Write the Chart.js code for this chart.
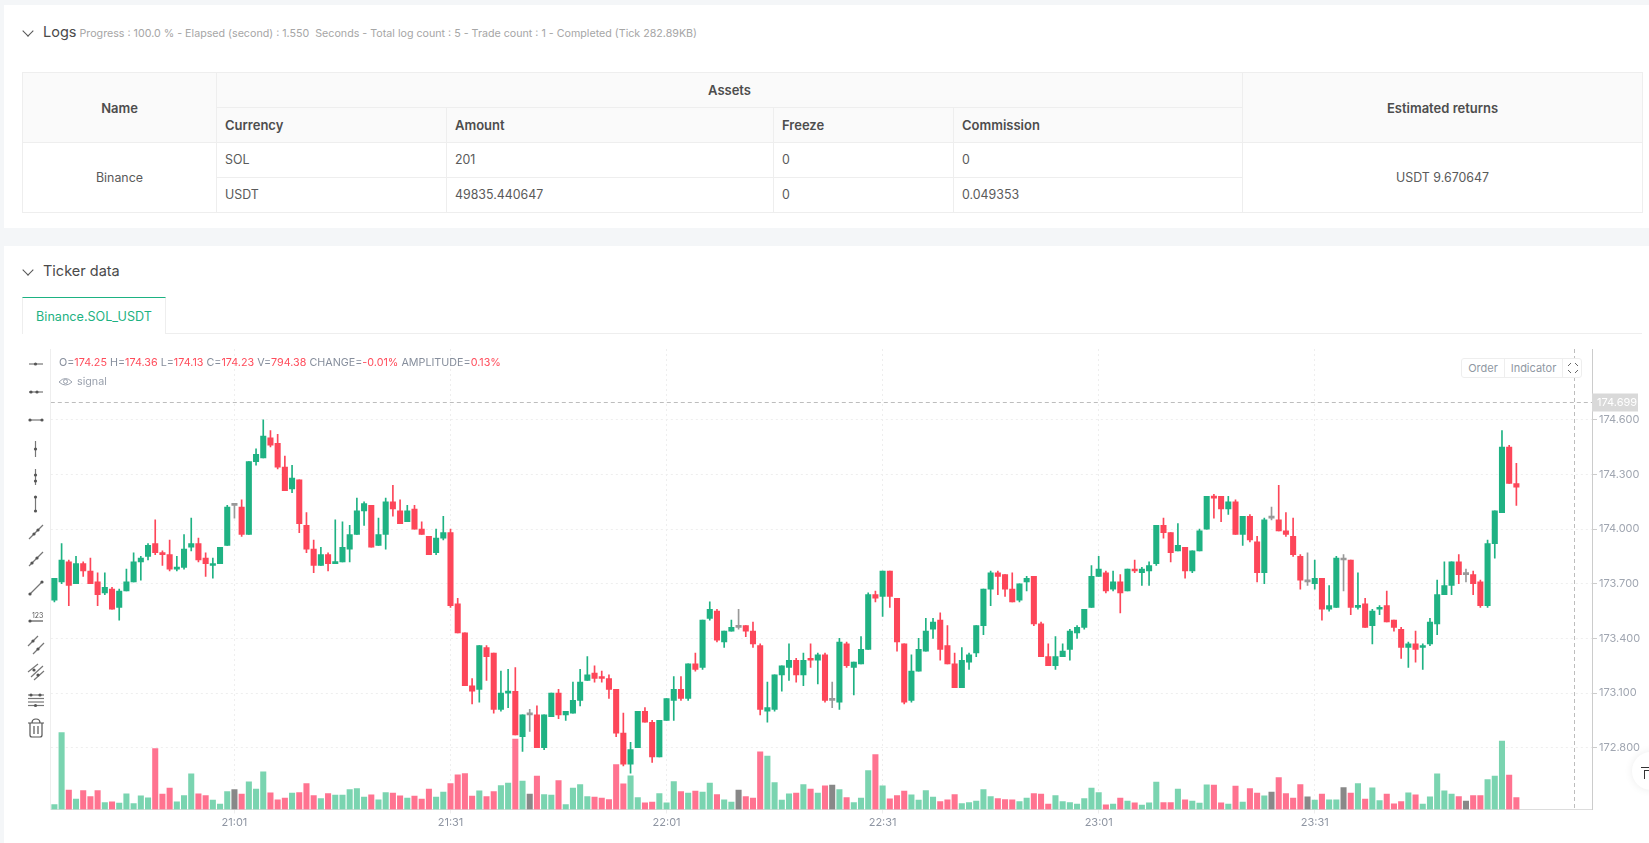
<!DOCTYPE html>
<html>
<head>
<meta charset="utf-8">
<title>Ticker data</title>
<script src="https://cdn.jsdelivr.net/npm/chart.js@4/dist/chart.umd.min.js"></script>
<style>
  html, body { margin: 0; padding: 0; background: #f4f6f8; font-family: Inter, sans-serif; }
  body { width: 1649px; height: 843px; position: relative; overflow: hidden; }
  .card { position: absolute; left: 4px; right: 0; background: #fff; }
  .abs { position: absolute; white-space: pre; }
  .chev { position: absolute; width: 7px; height: 7px; border-right: 1px solid #555; border-bottom: 1px solid #555; transform: rotate(45deg); }
  .title { font-size: 14.5px; color: #4a4a4a; }
  .sub { font-size: 10.7px; color: #a6a6a6; }
  table { position: absolute; left: 22px; top: 72px; width: 1620px; height: 140px; border-collapse: collapse; table-layout: fixed; font-size: 12.4px; color: #5a5a5a; }
  tr { height: 35px; }
  th, td { border: 1px solid #eee; padding: 0 0 0 8px; font-weight: 400; text-align: left; line-height: 16px; }
  th { background: #fafafa; font-weight: 600; font-size: 13px; color: #4d4d4d; }
  .c { text-align: center; padding: 0; }
  .tab { position: absolute; left: 22px; top: 297px; width: 144px; height: 37px; box-sizing: border-box; border: 1px solid #eee; border-top: 1px solid #1db282; border-bottom: 0; background: #fff; color: #1db282; font-size: 12.6px; line-height: 37px; text-align: center; }
  .info { font-size: 10.75px; color: #868e9c; }
  .info b { font-weight: 400; color: #ff4d5c; }
  .btns { position: absolute; left: 1461px; top: 358px; width: 121px; height: 20px; box-sizing: border-box; border: 1px solid #eee; border-radius: 3px; background: #fff; font-size: 11px; color: #9098a3; line-height: 18px; z-index: 2; }
  .btns span { position: absolute; text-align: center; top: 0; height: 18px; border-right: 1px solid #eee; }
  #chartBox { position: absolute; left: 30px; top: 340px; }
</style>
</head>
<body>
<div class="card" style="top:5px;height:223px"></div>
<div class="card" style="top:246px;bottom:0"></div>

<div class="chev" style="left:24px;top:27px"></div>
<div class="abs title" style="left:43px;top:23px">Logs</div>
<div class="abs sub" style="left:79.5px;top:27px">Progress : 100.0 % - Elapsed (second) : 1.550  Seconds - Total log count : 5 - Trade count : 1 - Completed (Tick 282.89KB)</div>

<table>
  <colgroup><col style="width:194px"><col style="width:230px"><col style="width:327px"><col style="width:180px"><col style="width:289px"><col style="width:400px"></colgroup>
  <tr><th class="c" rowspan="2">Name</th><th class="c" colspan="4">Assets</th><th class="c" rowspan="2">Estimated returns</th></tr>
  <tr><th>Currency</th><th>Amount</th><th>Freeze</th><th>Commission</th></tr>
  <tr><td class="c" rowspan="2">Binance</td><td>SOL</td><td>201</td><td>0</td><td>0</td><td class="c" rowspan="2">USDT 9.670647</td></tr>
  <tr><td>USDT</td><td>49835.440647</td><td>0</td><td>0.049353</td></tr>
</table>

<div class="chev" style="left:24px;top:266px"></div>
<div class="abs title" style="left:43px;top:262px">Ticker data</div>
<div class="tab">Binance.SOL_USDT</div>
<div class="abs" style="left:166px;top:333px;width:1476px;height:1px;background:#eee"></div>

<div id="chartBox"><canvas id="grafico" width="1619" height="500" style="display:block;width:1619px;height:500px"></canvas></div>
<div class="abs" style="left:50px;top:349px;width:1px;height:461px;background:#eee"></div>

<div class="abs info" style="left:59px;top:356px">O=<b>174.25</b> H=<b>174.36</b> L=<b>174.13</b> C=<b>174.23</b> V=<b>794.38</b> CHANGE=<b>-0.01%</b> AMPLITUDE=<b>0.13%</b></div>
<svg class="abs" style="left:58px;top:376px" width="16" height="12" viewBox="0 0 16 12"><path d="M1 6 Q7.5 -1 14 6 Q7.5 12 1 6Z" fill="none" stroke="#9aa1ad"/><circle cx="7.5" cy="5.5" r="2" fill="none" stroke="#9aa1ad"/></svg>
<div class="abs info" style="left:77px;top:375px;color:#9aa1ad">signal</div>

<div class="btns">
  <span style="left:0;width:42px">Order</span>
  <span style="left:43px;width:57px">Indicator</span>
  <svg class="abs" style="left:105px;top:3px" width="12" height="12" viewBox="0 0 12 12" fill="none" stroke="#666"><path d="M1 4L4 1M8 1L11 4M11 8L8 11M4 11L1 8"/></svg>
</div>

<svg class="abs" id="herramientas" style="left:0;top:0" width="60" height="760" fill="none" stroke="#666" stroke-width="1.2"></svg>

<div class="abs" style="left:1632px;top:752px;width:38px;height:38px;border-radius:50%;background:#fff;box-shadow:0 0 8px rgba(0,0,0,.08)"></div>
<div class="abs" style="left:1641px;top:767px;width:8px;height:1px;background:#333"></div>
<div class="abs" style="left:1644px;top:770px;width:5px;height:8px;border-left:1px solid #333;border-top:1px solid #333"></div>

<script>
const opens = [
  173.61,173.71,173.82,173.70,173.81,173.77,173.71,173.65,173.67,173.57,
  173.66,173.71,173.82,173.85,173.92,173.87,173.86,173.78,173.79,173.90,
  173.92,173.84,173.80,173.81,173.91,174.13,174.12,173.97,174.37,174.39,
  174.50,174.47,174.34,174.22,174.27,174.02,173.89,173.80,173.86,173.81,
  173.82,173.89,173.97,174.10,174.13,173.91,173.97,174.15,174.10,174.04,
  174.11,174.00,173.96,173.87,173.95,173.98,173.59,173.43,173.14,173.12,
  173.35,173.32,173.01,173.10,173.11,172.86,172.98,172.98,172.80,172.97,
  173.10,172.98,172.99,173.06,173.17,173.21,173.19,173.18,173.12,172.88,
  172.71,172.80,173.00,172.94,172.75,172.95,173.06,173.12,173.07,173.26,
  173.24,173.51,173.55,173.38,173.44,173.46,173.47,173.44,173.36,173.00,
  173.01,173.20,173.24,173.28,173.20,173.29,173.28,173.31,173.06,173.05,
  173.37,173.24,173.26,173.34,173.64,173.63,173.77,173.62,173.37,173.06,
  173.22,173.33,173.45,173.50,173.36,173.26,173.13,173.27,173.32,173.47,
  173.67,173.76,173.75,173.67,173.61,173.71,173.74,173.48,173.30,173.25,
  173.30,173.34,173.43,173.46,173.57,173.74,173.76,173.67,173.71,173.66,
  173.78,173.76,173.77,173.81,174.02,173.98,173.88,173.90,173.77,173.88,
  174.00,174.18,174.18,174.11,174.15,173.97,174.07,173.93,173.76,174.06,
  174.05,173.99,173.96,173.85,173.71,173.70,173.73,173.56,173.57,173.83,
  173.83,173.57,173.59,173.47,173.56,173.58,173.50,173.45,173.35,173.37,
  173.35,173.37,173.48,173.64,173.69,173.82,173.75,173.75,173.71,173.58,
  173.92,174.09,174.45,174.25
];
const closes = [
  173.73,173.83,173.69,173.81,173.77,173.70,173.64,173.68,173.56,173.66,
  173.71,173.82,173.84,173.91,173.87,173.86,173.78,173.79,173.89,173.92,
  173.83,173.81,173.81,173.90,174.12,174.13,173.97,174.37,174.41,174.51,
  174.46,174.34,174.21,174.28,174.03,173.89,173.80,173.86,173.81,173.82,
  173.90,173.97,174.10,174.14,173.90,173.97,174.15,174.11,174.03,174.10,
  174.00,173.97,173.86,173.95,173.98,173.58,173.43,173.14,173.11,173.36,
  173.30,173.01,173.10,173.11,172.87,172.98,172.98,172.80,172.98,173.10,
  172.98,173.00,173.06,173.16,173.20,173.18,173.18,173.12,172.88,172.71,
  172.79,173.00,172.94,172.75,172.95,173.07,173.12,173.07,173.26,173.23,
  173.50,173.56,173.39,173.44,173.46,173.46,173.44,173.37,173.01,173.02,
  173.20,173.25,173.28,173.20,173.28,173.28,173.31,173.06,173.06,173.38,
  173.25,173.27,173.34,173.64,173.62,173.77,173.63,173.38,173.05,173.22,
  173.34,173.44,173.49,173.34,173.26,173.13,173.28,173.31,173.47,173.67,
  173.76,173.74,173.67,173.60,173.70,173.73,173.48,173.30,173.25,173.30,
  173.33,173.44,173.46,173.56,173.74,173.78,173.66,173.71,173.65,173.78,
  173.77,173.78,173.80,174.02,173.98,173.87,173.91,173.77,173.88,173.99,
  174.18,174.17,174.11,174.15,173.97,174.07,173.94,173.76,174.05,174.06,
  173.99,173.97,173.86,173.72,173.71,173.73,173.56,173.58,173.84,173.83,
  173.57,173.58,173.46,173.55,173.57,173.49,173.46,173.35,173.37,173.34,
  173.36,173.49,173.64,173.69,173.82,173.75,173.75,173.70,173.58,173.92,
  174.10,174.45,174.25,174.23
];
const highs = [
  173.73,173.92,173.83,173.85,173.82,173.84,173.76,173.76,173.68,173.67,
  173.78,173.87,173.85,173.92,174.05,173.88,173.94,173.85,173.97,174.06,
  173.95,173.87,173.84,173.90,174.13,174.13,174.16,174.37,174.44,174.60,
  174.54,174.52,174.40,174.35,174.27,174.09,173.94,173.90,173.87,174.05,
  174.04,174.02,174.17,174.15,174.13,174.06,174.17,174.24,174.16,174.13,
  174.13,174.04,173.96,174.00,174.07,174.00,173.62,173.43,173.18,173.36,
  173.36,173.32,173.22,173.23,173.24,172.98,173.01,173.03,172.98,173.10,
  173.12,173.00,173.16,173.23,173.30,173.25,173.22,173.20,173.12,172.99,
  172.83,173.00,173.02,172.95,172.95,173.07,173.19,173.19,173.26,173.32,
  173.50,173.60,173.56,173.44,173.50,173.56,173.47,173.49,173.37,173.16,
  173.20,173.25,173.37,173.29,173.32,173.37,173.32,173.32,173.16,173.40,
  173.38,173.27,173.41,173.65,173.66,173.77,173.77,173.62,173.37,173.31,
  173.40,173.51,173.51,173.54,173.47,173.32,173.35,173.32,173.47,173.67,
  173.77,173.77,173.75,173.76,173.70,173.74,173.74,173.49,173.37,173.41,
  173.37,173.45,173.47,173.56,173.80,173.85,173.77,173.77,173.75,173.78,
  173.83,173.79,173.82,174.02,174.06,173.98,174.03,173.90,173.88,174.00,
  174.18,174.19,174.18,174.18,174.16,174.07,174.08,173.96,174.06,174.12,
  174.24,174.09,174.06,173.86,173.87,173.83,173.73,173.69,173.85,173.86,
  173.83,173.76,173.62,173.56,173.58,173.66,173.50,173.46,173.38,173.44,
  173.37,173.51,173.72,173.82,173.82,173.86,173.78,173.77,173.72,173.94,
  174.10,174.54,174.46,174.36
];
const lows = [
  173.60,173.70,173.58,173.70,173.74,173.70,173.58,173.64,173.56,173.50,
  173.66,173.71,173.72,173.83,173.86,173.80,173.77,173.77,173.78,173.88,
  173.82,173.74,173.73,173.81,173.91,174.06,173.96,173.97,174.35,174.39,
  174.45,174.33,174.21,174.20,173.98,173.87,173.76,173.80,173.77,173.81,
  173.82,173.82,173.97,174.02,173.90,173.91,173.89,174.07,174.03,174.04,
  174.00,173.97,173.86,173.86,173.94,173.57,173.43,173.14,173.04,173.05,
  173.17,172.99,173.00,173.02,172.87,172.78,172.89,172.80,172.79,172.97,
  172.96,172.95,172.99,173.03,173.17,173.16,173.16,173.07,172.86,172.70,
  172.66,172.80,172.94,172.72,172.75,172.95,172.95,173.06,173.06,173.22,
  173.23,173.50,173.38,173.35,173.44,173.45,173.41,173.35,172.98,172.94,
  173.00,173.11,173.17,173.16,173.14,173.24,173.15,173.05,173.02,173.01,
  173.24,173.09,173.26,173.34,173.60,173.52,173.57,173.33,173.04,173.05,
  173.22,173.33,173.40,173.28,173.26,173.13,173.13,173.23,173.30,173.42,
  173.58,173.64,173.63,173.60,173.60,173.66,173.47,173.30,173.25,173.23,
  173.30,173.28,173.40,173.45,173.57,173.74,173.65,173.66,173.54,173.66,
  173.76,173.69,173.69,173.80,173.95,173.82,173.88,173.73,173.76,173.88,
  174.00,174.06,174.04,174.08,173.97,173.91,173.93,173.71,173.70,174.05,
  173.99,173.96,173.85,173.67,173.69,173.67,173.50,173.55,173.57,173.66,
  173.53,173.56,173.46,173.37,173.53,173.49,173.44,173.29,173.24,173.27,
  173.23,173.36,173.42,173.64,173.64,173.70,173.71,173.64,173.57,173.57,
  173.84,174.09,174.25,174.13
];
const volumes = [
  330,5082,1276,682,1254,858,1254,462,506,418,
  1034,396,902,770,4026,1012,1408,506,924,2354,
  1034,924,616,352,1188,1320,1012,1826,1342,2486,
  1100,638,748,1078,1122,1716,924,726,1056,946,
  946,1320,1386,814,968,638,1122,1078,902,748,
  880,682,1342,814,1144,1716,2288,2376,880,1232,
  858,1188,1584,1738,4642,1870,1012,2200,990,946,
  1914,330,1408,1650,858,814,748,660,2970,1694,
  2222,792,440,484,1056,440,1848,1188,1078,1210,
  1144,1738,990,638,484,1276,858,748,3806,3520,
  1782,616,1034,1078,1650,1342,1078,1562,1606,1320,
  792,462,748,2574,3630,1562,704,924,1210,968,
  616,1254,814,528,638,990,396,462,550,1320,
  858,726,660,638,528,748,1056,1012,352,924,
  528,462,352,726,1408,1122,308,352,748,550,
  440,286,440,1804,462,462,1342,638,550,418,
  1628,1606,440,352,1540,484,1386,1078,902,1144,
  2112,1056,748,1650,836,616,1012,638,638,1452,
  1078,1716,682,1430,594,1012,374,528,1100,968,
  352,836,2354,1232,1012,858,550,924,924,1980,
  2200,4510,2266,794.38
];
const tickLabels = ['21:01', '21:31', '22:01', '22:31', '23:01', '23:31'];
const priceTicks = [174.6, 174.3, 174.0, 173.7, 173.4, 173.1, 172.8];
const lastPrice = 174.699;
const crosshairTime = '00:07';

// minutos desde 20:36, con hueco a la derecha de la ultima vela
const categories = [];
for (let m = 20 * 60 + 36, n = 0; n < 214; m++, n++) {
  const h = Math.floor(m / 60) % 24;
  categories.push(String(h).padStart(2, '0') + ':' + String(m % 60).padStart(2, '0'));
}

const UP = '#1fb283', DOWN = '#fd4659', FLAT = '#999999';
const UP_VOL = '#7ad4b0', DOWN_VOL = '#ff7390', FLAT_VOL = '#888888';

function colorVela(i, up, down, flat) {
  if (closes[i] > opens[i]) return up;
  if (closes[i] < opens[i]) return down;
  return flat;
}

const lineasPrecio = {
  id: 'lineasPrecio',
  afterDatasetsDraw(chart) {
    const { ctx, chartArea, scales } = chart;
    const y = Math.round(scales.y.getPixelForValue(lastPrice)) + 0.5;
    const x = Math.round(scales.x.getPixelForValue(categories.indexOf(crosshairTime))) + 0.5;
    ctx.save();
    ctx.strokeStyle = '#bdbdbd';
    ctx.lineWidth = 1;
    ctx.setLineDash([4, 3]);
    ctx.beginPath();
    ctx.moveTo(chartArea.left, y);
    ctx.lineTo(chartArea.right, y);
    ctx.moveTo(x, chartArea.top);
    ctx.lineTo(x, chartArea.bottom);
    ctx.stroke();
    ctx.setLineDash([]);
    ctx.fillStyle = '#d9d9d9';
    ctx.fillRect(chartArea.right, y - 9, 46, 18);
    ctx.fillStyle = '#fff';
    ctx.font = '11px Inter';
    ctx.textBaseline = 'middle';
    ctx.fillText(lastPrice.toFixed(3), chartArea.right + 5, y + 0.5);
    ctx.restore();
  }
};

new Chart(document.getElementById('grafico'), {
  type: 'bar',
  data: {
    labels: categories,
    datasets: [
      {
        label: 'body',
        data: opens.map((o, i) => [o, closes[i]]),
        backgroundColor: c => colorVela(c.dataIndex, UP, DOWN, FLAT),
        barThickness: 5.4,
        minBarLength: 2,
        yAxisID: 'y',
        order: 1
      },
      {
        label: 'wick',
        data: lows.map((l, i) => [l, highs[i]]),
        backgroundColor: c => colorVela(c.dataIndex, UP, DOWN, FLAT),
        barThickness: 1,
        yAxisID: 'y',
        order: 2
      },
      {
        label: 'volume',
        data: volumes,
        backgroundColor: c => colorVela(c.dataIndex, UP_VOL, DOWN_VOL, FLAT_VOL),
        barThickness: 5.4,
        yAxisID: 'vol',
        order: 3
      }
    ]
  },
  options: {
    responsive: false,
    animation: false,
    devicePixelRatio: 1,
    layout: { padding: { left: 20.8, top: 9, right: 0, bottom: 0 } },
    datasets: { bar: { grouped: false } },
    plugins: { legend: { display: false }, tooltip: { enabled: false }, title: { display: false } },
    scales: {
      x: {
        afterFit: s => { s.height = 30.5; },
        grid: {
          offset: false,
          color: c => (c.tick && tickLabels.includes(categories[c.index]) ? '#eeeeee' : 'transparent'),
          tickLength: 4
        },
        border: { color: '#dddddd', dash: [2, 3] },
        ticks: {
          autoSkip: false,
          maxRotation: 0,
          padding: 3,
          color: '#8e95a2',
          font: { family: 'Inter', size: 11 },
          callback(v) {
            const t = this.getLabelForValue(v);
            return tickLabels.includes(t) ? t : '';
          }
        }
      },
      y: {
        position: 'right',
        min: 172.461,
        max: 174.988,
        afterFit: s => { s.width = 57; },
        afterBuildTicks: s => { s.ticks = priceTicks.map(v => ({ value: v })); },
        grid: { color: '#eeeeee', tickColor: '#cccccc', tickLength: 5 },
        border: { color: '#cccccc', dash: [2, 3] },
        ticks: {
          padding: 2,
          color: '#a0a6b1',
          font: { family: 'Inter', size: 11 },
          callback: v => v.toFixed(3)
        }
      },
      vol: { display: false, min: 0, max: 30400 }
    }
  },
  plugins: [lineasPrecio]
});

// barra de herramientas de dibujo
const svg = document.getElementById('herramientas');
let trazo = '';
function punto(x, y) { trazo += `<circle cx="${x}" cy="${y}" r="1.6" fill="#555" stroke="none"/>`; }
function linea(x1, y1, x2, y2, c) { trazo += `<line x1="${x1}" y1="${y1}" x2="${x2}" y2="${y2}" stroke="${c || '#777'}"/>`; }
linea(29, 364, 43, 364); punto(35.5, 364);
linea(29, 392, 43, 392); punto(31, 392); punto(37, 392);
linea(29, 420, 43, 420); punto(30, 420); punto(42, 420);
linea(35.5, 441, 35.5, 457); punto(35.5, 449);
linea(35.5, 469, 35.5, 485); punto(35.5, 475); punto(35.5, 481);
linea(35.5, 497, 35.5, 511); punto(35.5, 497); punto(35.5, 511);
linea(29, 539, 43, 525); punto(34, 534); punto(38, 530);
linea(29, 566, 43, 552); punto(32, 563); punto(37, 558);
linea(30, 594, 42, 582); punto(30, 594); punto(42, 582);
linea(29, 621, 43, 621, '#555'); punto(30, 621);
trazo += '<text x="32" y="618" font-size="7" fill="#555" stroke="none" font-family="Inter">123</text>';
linea(28, 646, 38, 636); linea(33, 654, 44, 643); punto(33, 641); punto(38, 649);
linea(28, 672, 38, 664); linea(31, 677, 43, 666); linea(34, 680, 44, 671); punto(34, 670); punto(38, 675);
[695, 698.5, 702, 705.5].forEach(y => linea(28, y, 44, y));
punto(31, 695); punto(40, 695); punto(35.5, 705.5);
trazo += '<path d="M28 723 H44 M32 723 Q32 719 36 719 Q40 719 40 723 M30 723 V735 Q30 737 32 737 H40 Q42 737 42 735 V723 M34 726 V734 M38 726 V734" stroke="#555"/>';
svg.innerHTML = trazo;
</script>
</body>
</html>
